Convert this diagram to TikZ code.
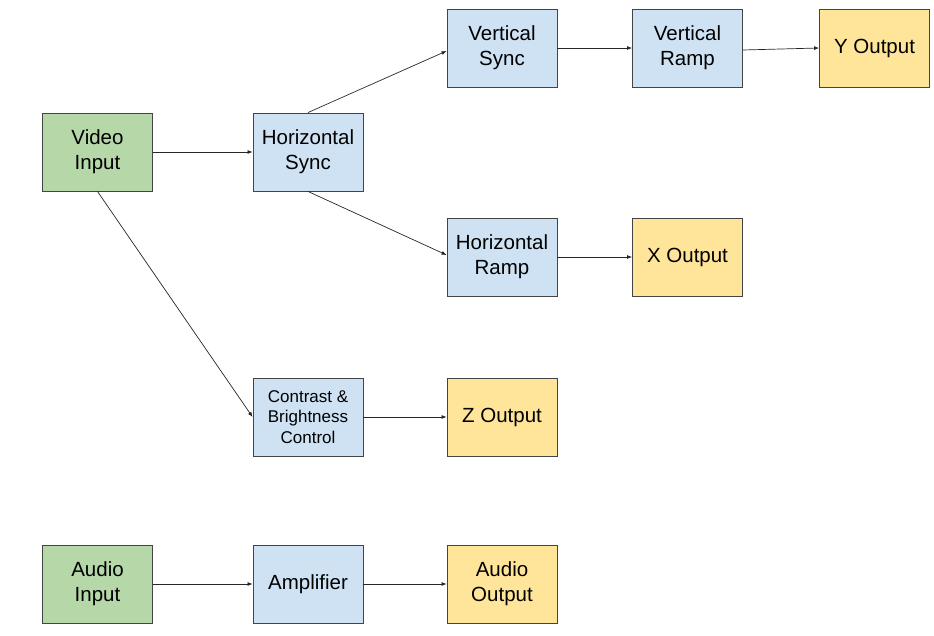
\documentclass[tikz,border=0pt]{standalone}
\usepackage{fontspec}
\setmainfont{Liberation Sans}
\usepackage{tikz}
\usetikzlibrary{arrows.meta}
\definecolor{inputgreen}{HTML}{B6D7A8}
\definecolor{stageblue}{HTML}{CFE2F3}
\definecolor{outyellow}{HTML}{FFE599}
\definecolor{edgegray}{HTML}{444444}

\begin{document}
\begin{tikzpicture}[x=1pt,y=-1pt,
  block/.style={rectangle,draw=edgegray,line width=0.9pt,minimum width=110pt,minimum height=78pt,
    inner sep=2pt,align=center,font=\fontsize{20.5}{25}\selectfont},
  inbox/.style={block,fill=inputgreen},
  stagebox/.style={block,fill=stageblue},
  outbox/.style={block,fill=outyellow},
  wire/.style={draw=black!85,line width=0.7pt,-{Latex[length=5pt,width=4pt]}}]
\useasboundingbox (0,0) rectangle (934,636);

%%Video chain
\node[inbox] (VideoIn) at (97.5,152) {Video\\Input};
\node[stagebox] (HSync) at (308,152) {Horizontal\\Sync};
\node[stagebox] (VSync) at (502,48) {Vertical\\Sync};
\node[stagebox] (VRamp) at (687.5,48) {Vertical\\Ramp};
\node[outbox] (YOut) at (874.5,48) {Y Output};
\node[stagebox] (HRamp) at (502,257) {Horizontal\\Ramp};
\node[outbox] (XOut) at (687.5,257) {X Output};
\node[stagebox,font=\fontsize{17}{20.5}\selectfont] (Contrast) at (308,417) {Contrast \&\\Brightness\\Control};
\node[outbox] (ZOut) at (502,417) {Z Output};

%%Audio chain
\node[inbox] (AudioIn) at (97.5,584) {Audio\\Input};
\node[stagebox] (Amp) at (308,584) {Amplifier};
\node[outbox] (AudioOut) at (502,584) {Audio\\Output};

%%Connectors
\draw[wire] (VideoIn.east) -- (HSync.west);
\draw[wire] (HSync.north) -- ([yshift=-3pt]VSync.west);
\draw[wire] (HSync.south) -- ([yshift=2pt]HRamp.west);
\draw[wire] (VideoIn.south) -- (Contrast.west);
\draw[wire] (VSync.east) -- (VRamp.west);
\draw[wire] ([yshift=-2pt]VRamp.east) -- (YOut.west);
\draw[wire] (HRamp.east) -- (XOut.west);
\draw[wire] (Contrast.east) -- (ZOut.west);
\draw[wire] (AudioIn.east) -- (Amp.west);
\draw[wire] (Amp.east) -- (AudioOut.west);

\end{tikzpicture}
\end{document}
